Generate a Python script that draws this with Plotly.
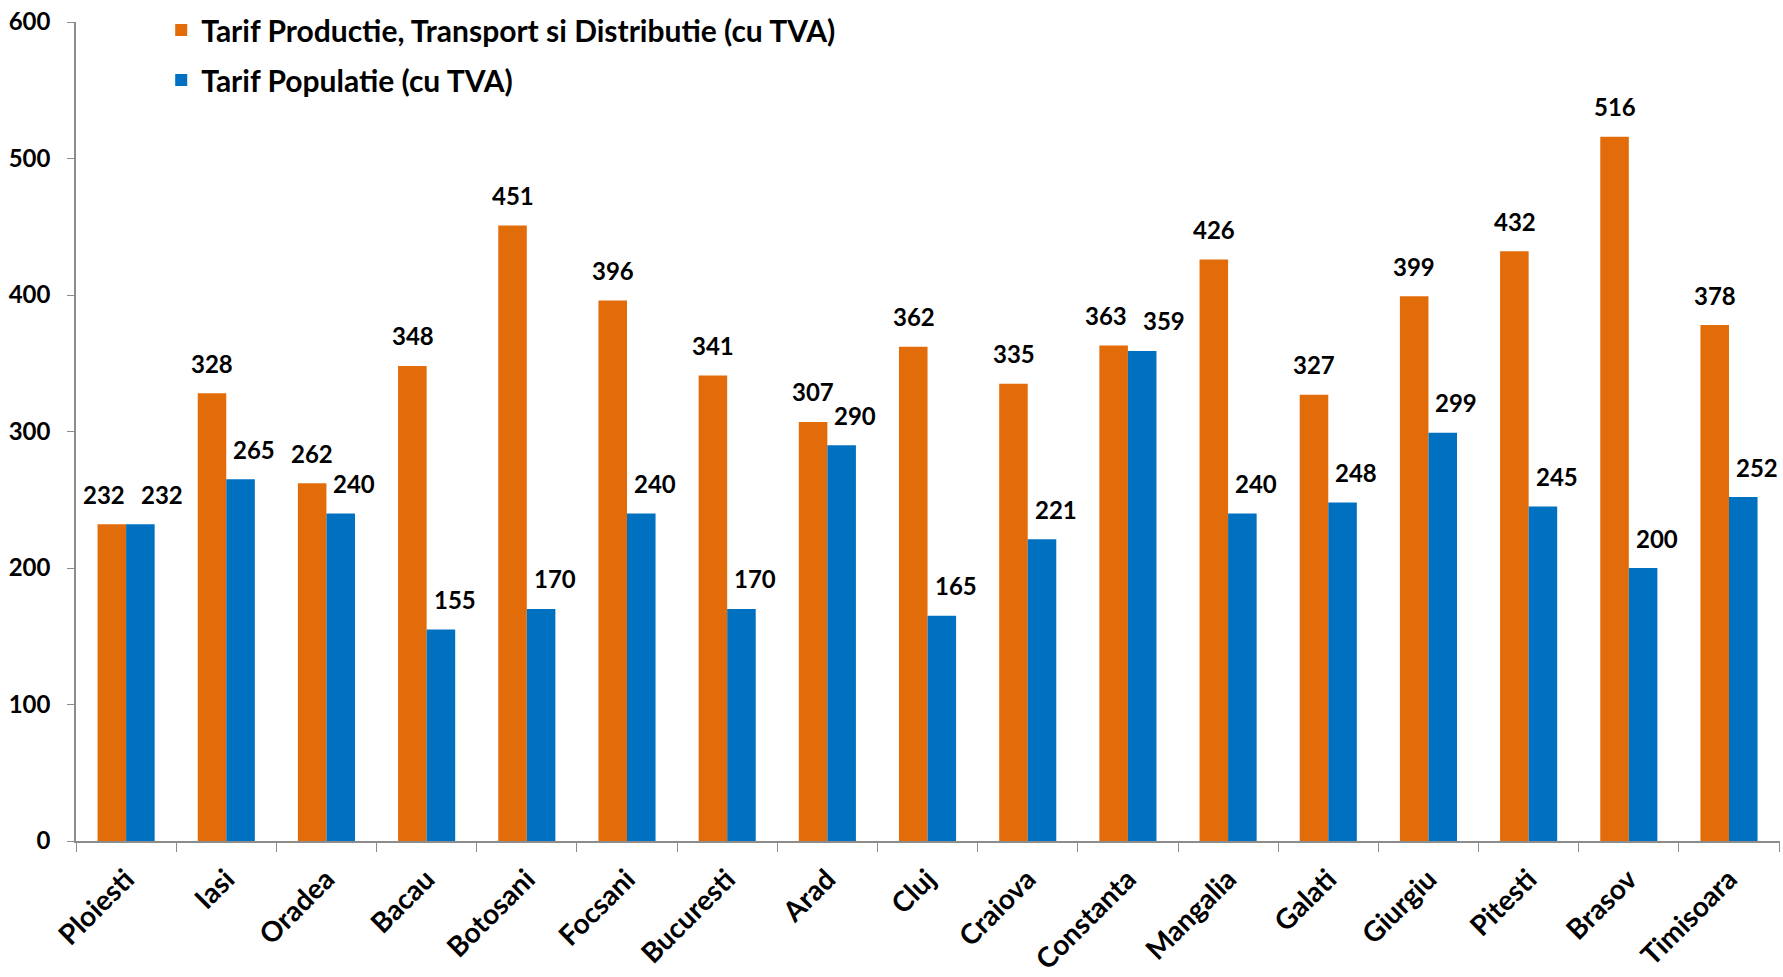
import plotly.graph_objects as go

cities = ["Ploiesti", "Iasi", "Oradea", "Bacau", "Botosani", "Focsani", "Bucuresti",
          "Arad", "Cluj", "Craiova", "Constanta", "Mangalia", "Galati", "Giurgiu",
          "Pitesti", "Brasov", "Timisoara"]
tarif_ptd = [232, 328, 262, 348, 451, 396, 341, 307, 362, 335, 363, 426, 327, 399, 432, 516, 378]
tarif_pop = [232, 265, 240, 155, 170, 240, 170, 290, 165, 221, 359, 240, 248, 299, 245, 200, 252]

ORANGE = "#E36C0A"
BLUE = "#0070C0"
FONT = "Lato"

fig = go.Figure()
fig.add_trace(go.Bar(
    x=cities, y=tarif_ptd, name="Tarif Productie, Transport si Distributie (cu TVA)",
    marker=dict(color=ORANGE, line=dict(width=0)), legendgroup="a",
))
fig.add_trace(go.Bar(
    x=cities, y=tarif_pop, name="Tarif Populatie (cu TVA)",
    marker=dict(color=BLUE, line=dict(width=0)), legendgroup="b",
))

# etichete valori deasupra barelor; cand valorile sunt aproape egale, le departam putin
for c, v1, v2 in zip(cities, tarif_ptd, tarif_pop):
    push = 8 if abs(v1 - v2) < 10 else 0
    fig.add_annotation(x=c, y=v1, xref="x", yref="y", text=f"<b>{v1}</b>", showarrow=False,
                       xshift=-14 - push, yshift=30, font=dict(family=FONT, size=24, color="black"))
    fig.add_annotation(x=c, y=v2, xref="x", yref="y", text=f"<b>{v2}</b>", showarrow=False,
                       xshift=28 + push, yshift=30, font=dict(family=FONT, size=24, color="black"))

fig.update_layout(
    width=1783, height=977,
    margin=dict(l=76, r=3, t=22, b=136),
    plot_bgcolor="white", paper_bgcolor="white",
    barmode="group", bargap=0.43, bargroupgap=0,
    font=dict(family=FONT, color="black"),
    showlegend=True,
    legend=dict(
        x=0.05, y=1.022, xanchor="left", yanchor="top",
        traceorder="grouped", tracegroupgap=8,
        font=dict(family=FONT, size=30, color="black", weight="bold"),
        bgcolor="rgba(0,0,0,0)",
    ),
    xaxis=dict(
        type="category", tickson="boundaries", ticks="outside", ticklen=9,
        tickcolor="#8c8c8c", showline=True, linecolor="#8c8c8c", linewidth=1.5,
        tickangle=-45, ticklabelstandoff=9, automargin=False,
        tickfont=dict(family=FONT, size=28, color="black", weight="bold"),
        showgrid=False,
    ),
    yaxis=dict(
        range=[0, 600], dtick=100, ticks="outside", ticklen=7,
        tickcolor="#8c8c8c", showline=True, linecolor="#8c8c8c", linewidth=1.5,
        ticklabelstandoff=12, automargin=False,
        tickfont=dict(family=FONT, size=24, color="black", weight="bold"),
        showgrid=False, zeroline=False,
    ),
)

# pagina fara marginea implicita a body-ului
fig.write_html("out.html", config={"displayModeBar": False},
               post_script="document.body.style.margin='0';")
